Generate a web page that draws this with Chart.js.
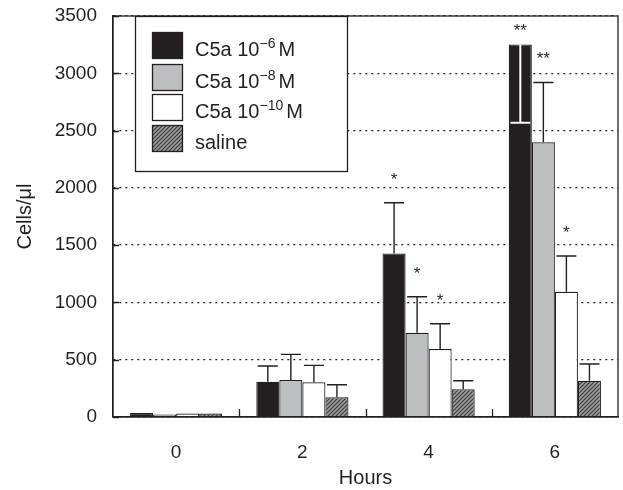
<!DOCTYPE html>
<html>
<head>
<meta charset="utf-8">
<script src="https://cdn.jsdelivr.net/npm/chart.js@4/dist/chart.umd.min.js"></script>
<style>
html, body { margin: 0; padding: 0; background: #fff; }
</style>
</head>
<body>
<canvas id="myChart" width="623" height="490"></canvas>
<script>
// data
const hours = ['0', '2', '4', '6'];
const c5a6 = [35, 308, 1428, 3252];
const c5a8 = [22, 323, 735, 2397];
const c5a10 = [30, 303, 593, 1093];
const saline = [30, 172, 242, 317];
// SD, negative = drawn down inside the bar
const c5a6Err = [0, 137, 442, -684];
const c5a8Err = [0, 224, 315, 523];
const c5a10Err = [0, 148, 221, 312];
const salineErr = [0, 110, 75, 145];
const c5a6Stars = ['', '', '*', '**'];
const c5a8Stars = ['', '', '*', '**'];
const c5a10Stars = ['', '', '*', '*'];
const salineStars = ['', '', '', ''];
const yTicks = [0, 500, 1000, 1500, 2000, 2500, 3000, 3500];
const legendNames = ['C5a 10', 'C5a 10', 'C5a 10', 'saline'];
const legendSups = ['\u22126', '\u22128', '\u221210', ''];
const legendUnits = ['M', 'M', 'M', ''];

const ink = '#231f20';
const fontFamily = "'Liberation Sans', Arial, sans-serif";

const ctx = document.getElementById('myChart').getContext('2d');

function makeHatch() {
    const c = document.createElement('canvas');
    c.width = 4; c.height = 4;
    const g = c.getContext('2d');
    g.fillStyle = '#9b9b9b';
    g.fillRect(0, 0, 4, 4);
    g.strokeStyle = '#3a3a3a';
    g.lineWidth = 1.1;
    g.beginPath();
    g.moveTo(0, 4); g.lineTo(4, 0);
    g.moveTo(-1, 1); g.lineTo(1, -1);
    g.moveTo(3, 5); g.lineTo(5, 3);
    g.stroke();
    return ctx.createPattern(c, 'repeat');
}
const hatch = makeHatch();

const errors = [c5a6Err, c5a8Err, c5a10Err, salineErr];
const stars = [c5a6Stars, c5a8Stars, c5a10Stars, salineStars];

const extras = {
    id: 'extras',
    afterDatasetsDraw(chart) {
        const c = chart.ctx;
        const y = chart.scales.y;
        const x = chart.scales.x;
        const area = chart.chartArea;
        c.save();
        // error bars and asterisks
        chart.data.datasets.forEach((ds, di) => {
            const meta = chart.getDatasetMeta(di);
            meta.data.forEach((bar, i) => {
                const err = errors[di][i];
                const val = ds.data[i];
                if (err) {
                    const yEnd = y.getPixelForValue(val + err);
                    c.strokeStyle = err < 0 ? '#ffffff' : ink;
                    c.lineWidth = err < 0 ? 2 : 1.4;
                    c.beginPath();
                    c.moveTo(bar.x, bar.y);
                    c.lineTo(bar.x, yEnd);
                    c.moveTo(bar.x - 10, yEnd);
                    c.lineTo(bar.x + 10, yEnd);
                    c.stroke();
                }
                const s = stars[di][i];
                if (s) {
                    const top = Math.min(bar.y, y.getPixelForValue(val + Math.max(err, 0)));
                    c.fillStyle = ink;
                    c.font = '17px ' + fontFamily;
                    c.textAlign = 'center';
                    c.textBaseline = 'alphabetic';
                    c.fillText(s, bar.x, top - (err < 0 ? 8 : 18));
                }
            });
        });
        // frame and inner ticks
        c.strokeStyle = ink;
        c.lineWidth = 1.3;
        c.strokeRect(area.left, area.top, area.right - area.left, area.bottom - area.top);
        c.beginPath();
        for (let i = 0; i < hours.length - 1; i++) {
            const px = Math.round((x.getPixelForValue(i) + x.getPixelForValue(i + 1)) / 2) + 0.5;
            c.moveTo(px, area.bottom);
            c.lineTo(px, area.bottom - 8);
        }
        yTicks.forEach(v => {
            const py = Math.round(y.getPixelForValue(v)) + 0.5;
            c.moveTo(area.left, py);
            c.lineTo(area.left + 6, py);
        });
        c.stroke();

        // legend
        const lx = area.left + 22, ly = area.top;
        c.fillStyle = '#ffffff';
        c.fillRect(lx, ly, 212, 155);
        c.strokeRect(lx + 0.5, ly + 0.5, 212, 155);
        const rows = [29, 61, 91, 122];
        chart.data.datasets.forEach((ds, di) => {
            const ry = ly + rows[di];
            c.fillStyle = ds.backgroundColor;
            c.fillRect(lx + 17, ry - 13, 30, 27);
            c.lineWidth = 1.3;
            c.strokeStyle = ink;
            c.strokeRect(lx + 17.5, ry - 12.5, 30, 26);
            c.fillStyle = ink;
            c.textAlign = 'left';
            c.textBaseline = 'alphabetic';
            c.font = '20px ' + fontFamily;
            let tx = lx + 60;
            c.fillText(legendNames[di], tx, ry + 11);
            tx += c.measureText(legendNames[di]).width;
            if (legendSups[di]) {
                c.font = '14px ' + fontFamily;
                c.fillText(legendSups[di], tx, ry + 3);
                tx += c.measureText(legendSups[di]).width + 3;
                c.font = '20px ' + fontFamily;
                c.fillText(legendUnits[di], tx, ry + 11);
            }
        });
        c.restore();
    }
};

const myChart = new Chart(ctx, {
    type: 'bar',
    data: {
        labels: hours,
        datasets: [
            { label: 'C5a 10-6 M', data: c5a6, backgroundColor: ink },
            { label: 'C5a 10-8 M', data: c5a8, backgroundColor: '#bcbec0' },
            { label: 'C5a 10-10 M', data: c5a10, backgroundColor: '#ffffff' },
            { label: 'saline', data: saline, backgroundColor: hatch }
        ]
    },
    options: {
        responsive: false,
        animation: false,
        datasets: {
            bar: {
                borderColor: ink,
                borderWidth: 1.2,
                categoryPercentage: 0.73,
                barPercentage: 1
            }
        },
        layout: { padding: { top: 16, right: 5, left: 0, bottom: 0 } },
        plugins: {
            legend: { display: false },
            tooltip: { enabled: false }
        },
        scales: {
            x: {
                grid: { display: false },
                border: { color: ink, width: 1.3 },
                ticks: { color: ink, font: { family: fontFamily, size: 19 }, padding: 16 },
                title: {
                    display: true,
                    text: 'Hours',
                    color: ink,
                    font: { family: fontFamily, size: 20 },
                    padding: { top: 0, bottom: 0 }
                },
                afterFit(scale) { scale.height = 73; }
            },
            y: {
                min: 0,
                max: 3500,
                afterBuildTicks(scale) { scale.ticks = yTicks.map(v => ({ value: v })); },
                grid: { color: ink, lineWidth: 1.3, drawTicks: false },
                border: { color: ink, width: 1.3, dash: [2, 4] },
                ticks: {
                    color: ink,
                    font: { family: fontFamily, size: 19 },
                    padding: 16,
                    callback: v => String(v)
                },
                title: {
                    display: true,
                    text: 'Cells/\u03bcl',
                    color: ink,
                    font: { family: fontFamily, size: 20 },
                    padding: { top: 13, bottom: 0 }
                },
                afterFit(scale) {
                    scale.width = 113;
                    scale.paddingTop = 0;
                    scale.paddingBottom = 0;
                }
            }
        }
    },
    plugins: [extras]
});
</script>
</body>
</html>
